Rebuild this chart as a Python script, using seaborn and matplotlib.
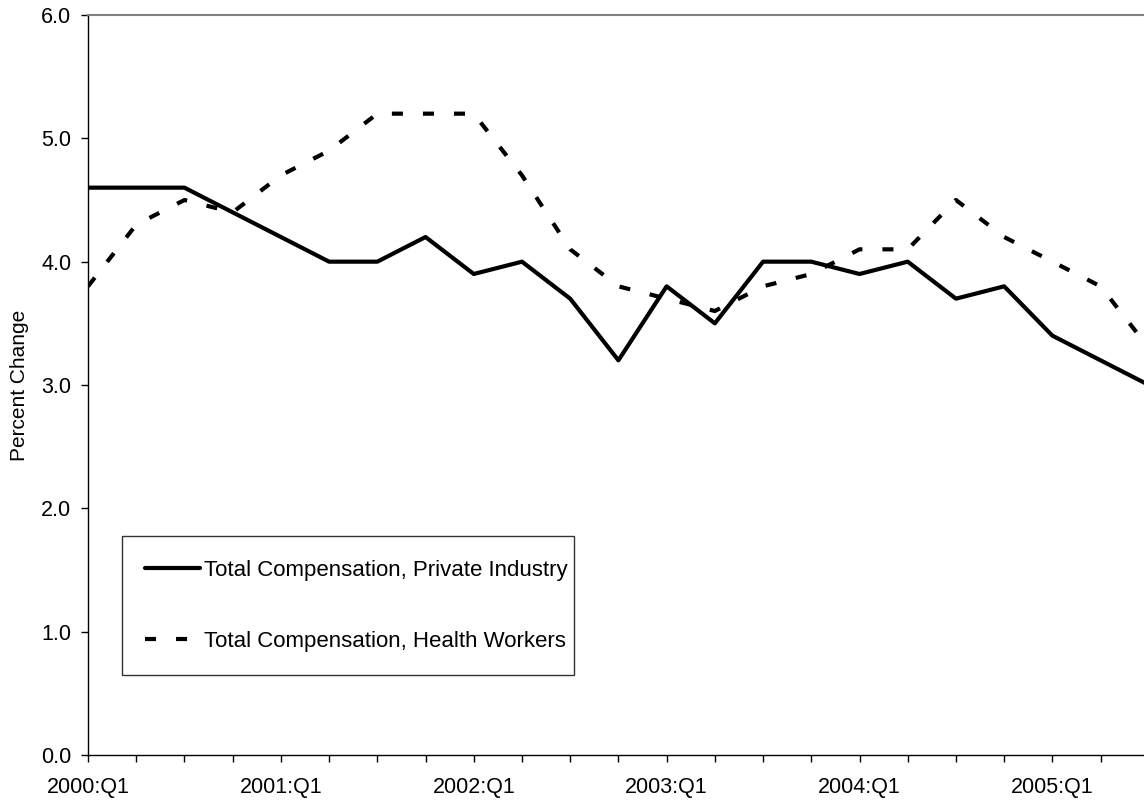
import matplotlib
matplotlib.use("Agg")
import matplotlib.pyplot as plt
import seaborn as sns
import pandas as pd
import numpy as np
from matplotlib.ticker import MultipleLocator, FixedLocator, FixedFormatter

quarters = [f"{y}:Q{q}" for y in range(2000, 2006) for q in range(1, 5)][:23]
private = [4.6, 4.6, 4.6, 4.4, 4.2, 4.0, 4.0, 4.2, 3.9, 4.0, 3.7, 3.2,
           3.8, 3.5, 4.0, 4.0, 3.9, 4.0, 3.7, 3.8, 3.4, 3.2, 3.0]
health = [3.8, 4.3, 4.5, 4.4, 4.7, 4.9, 5.2, 5.2, 5.2, 4.7, 4.1, 3.8,
          3.7, 3.6, 3.8, 3.9, 4.1, 4.1, 4.5, 4.2, 4.0, 3.8, 3.3]
label_private = "Total Compensation, Private Industry"
label_health = "Total Compensation, Health Workers"
tick_labels = ["2000:Q1", "2001:Q1", "2002:Q1", "2003:Q1", "2004:Q1", "2005:Q1"]

sns.set_theme(style="white")
plt.rcParams['font.family'] = ['Liberation Sans', 'DejaVu Sans']

df = pd.DataFrame({"idx": np.arange(len(quarters)), "quarter": quarters,
                   "private": private, "health": health})

fig = plt.figure(figsize=(11.44, 8), dpi=100)
ax = fig.add_axes([88/1144, 45/800, 1 - 88/1144, 740/800])

sns.lineplot(data=df, x="idx", y="private", ax=ax, color="black", linewidth=3.0,
             label=label_private)
sns.lineplot(data=df, x="idx", y="health", ax=ax, color="black", linewidth=3.0,
             label=label_health)
ax.lines[1].set_dashes([2.65, 4.8])
ax.lines[1].set_dash_capstyle("butt")

ax.set_xlim(0, 21.9)
ax.set_ylim(0, 6)
ax.yaxis.set_major_locator(MultipleLocator(1))
ax.yaxis.set_major_formatter(matplotlib.ticker.FormatStrFormatter("%.1f"))
ax.xaxis.set_major_locator(FixedLocator([0, 4, 8, 12, 16, 20]))
ax.xaxis.set_major_formatter(FixedFormatter(tick_labels))
ax.xaxis.set_minor_locator(MultipleLocator(1))

ax.tick_params(axis="both", which="both", direction="out", length=5, width=1,
               color="black", labelsize=15.5, labelcolor="black")
ax.tick_params(axis="x", which="both", bottom=True, pad=11)
ax.tick_params(axis="y", which="both", left=True, pad=7)

ax.set_xlabel("")
ax.set_ylabel("Percent Change", fontsize=15, color="black", labelpad=9)

for s in ["left", "bottom"]:
    ax.spines[s].set_color("black")
    ax.spines[s].set_linewidth(1)
ax.spines["top"].set_color("#808080")
ax.spines["top"].set_linewidth(1.5)
ax.spines["right"].set_visible(False)

leg = ax.legend(loc="lower left", bbox_to_anchor=(0.032, 0.108, 0.428, 0.186),
                mode="expand", frameon=True, fancybox=False, fontsize=16,
                handlelength=2.45, handletextpad=0.2, labelspacing=2.25,
                borderpad=1.05, borderaxespad=0)
leg.get_frame().set_edgecolor("black")
leg.get_frame().set_linewidth(1)
for t in leg.get_texts():
    t.set_color("black")

fig.savefig("out.png", dpi=100)
